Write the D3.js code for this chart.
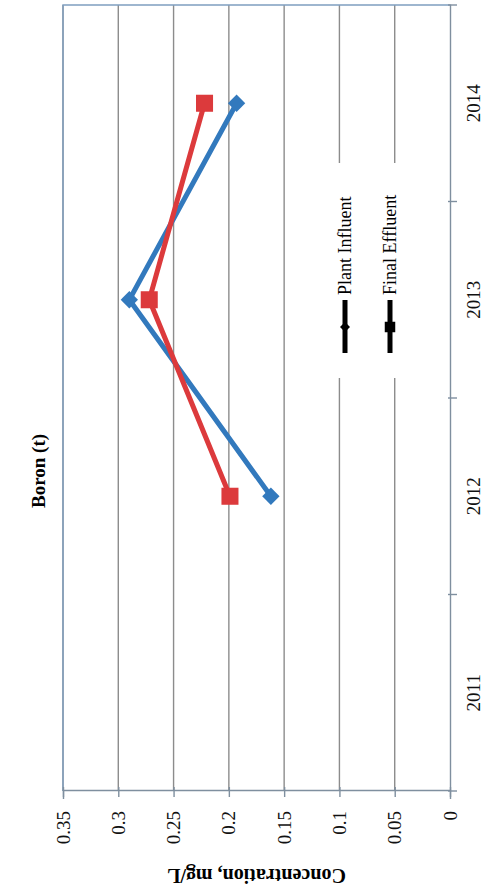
<!DOCTYPE html>
<html><head><meta charset="utf-8">
<script src="https://cdn.jsdelivr.net/npm/d3@7"></script>
<style>html,body{margin:0;padding:0;background:#fff;}svg{display:block;}</style>
</head><body>
<script>
const years = ["2011", "2012", "2013", "2014"];
const plantInfluent = [null, 0.162, 0.29, 0.193];
const finalEffluent = [null, 0.199, 0.272, 0.222];
const yTicks = [0, 0.05, 0.1, 0.15, 0.2, 0.25, 0.3, 0.35];
const seriesNames = ["Plant Influent", "Final Effluent"];

const W = 491, H = 893;
const svg = d3.select("body").append("svg").attr("width", W).attr("height", H);
// chart drawn in its own frame (893 wide x 491 tall) then rotated -90deg
const g = svg.append("g").attr("transform", `translate(0,${H}) rotate(-90)`);
const font = "'Liberation Serif', 'Times New Roman', serif";

const x = d3.scaleBand().domain(years).range([102, 888]);
const y = d3.scaleLinear().domain([0, 0.35]).range([450, 63]);

// gridlines
g.selectAll("line.grid").data(yTicks.filter(t => t > 0)).join("line")
  .attr("x1", 102).attr("x2", 888)
  .attr("y1", d => y(d)).attr("y2", d => y(d))
  .attr("stroke", "#8c8c8c").attr("stroke-width", 1.4);
// plot border (top & right in chart frame)
g.append("path").attr("d", `M102,${y(0.35)}H888V${y(0)}`)
  .attr("fill", "none").attr("stroke", "#7f9fc0").attr("stroke-width", 1.4);

// value axis
const yAxis = g.append("g").attr("transform", "translate(102,0)")
  .call(d3.axisLeft(y).tickValues(yTicks).tickSize(8).tickFormat(d => d === 0 ? "0" : String(d)));
yAxis.select(".domain").attr("stroke", "#7f8f9f").attr("stroke-width", 1.4);
yAxis.selectAll(".tick line").attr("stroke", "#7f8f9f").attr("stroke-width", 1.4).attr("x2", 4).attr("x1", -6);
yAxis.selectAll(".tick text").attr("x", -20).attr("font-family", font).attr("font-size", 19).attr("fill", "#111");

// category axis
const xAxis = g.append("g").attr("transform", `translate(0,${y(0)})`)
  .call(d3.axisBottom(x).tickSize(0).tickPadding(17));
xAxis.select(".domain").attr("stroke", "#7f8f9f").attr("stroke-width", 1.4);
xAxis.selectAll(".tick text").attr("font-family", font).attr("font-size", 19).attr("fill", "#111");
// boundary ticks
const bounds = years.map(d => x(d)).concat([x.range()[1]]);
g.selectAll("line.ctick").data(bounds).join("line")
  .attr("x1", d => d).attr("x2", d => d)
  .attr("y1", y(0) - 2).attr("y2", y(0) + 7)
  .attr("stroke", "#7f8f9f").attr("stroke-width", 1.4);

// title & axis title
g.append("text").attr("x", 422).attr("y", 45).attr("text-anchor", "middle")
  .attr("font-family", font).attr("font-weight", "bold").attr("font-size", 19).text("Boron (t)");
g.append("text").attr("transform", `translate(24,${(y(0)+y(0.35))/2}) rotate(-90)`)
  .attr("text-anchor", "middle").attr("font-family", font).attr("font-weight", "bold")
  .attr("font-size", 20).text("Concentration, mg/L");

// series
const cx = d => x(d) + x.bandwidth() / 2;
const series = [
  {name: seriesNames[0], vals: plantInfluent, color: "#3279bd", rot: 45, size: 150},
  {name: seriesNames[1], vals: finalEffluent, color: "#dc3a3c", rot: 0, size: 290}
];
const line = d3.line().defined(d => d.v != null).x(d => cx(d.year)).y(d => y(d.v));
series.forEach(s => {
  const pts = years.map((yr, i) => ({year: yr, v: s.vals[i]}));
  g.append("path").datum(pts).attr("d", line).attr("fill", "none")
    .attr("stroke", s.color).attr("stroke-width", 5).attr("stroke-linejoin", "miter");
  g.selectAll(null).data(pts.filter(p => p.v != null)).join("path")
    .attr("d", d3.symbol(d3.symbolSquare, s.size))
    .attr("transform", p => `translate(${cx(p.year)},${y(p.v)}) rotate(${s.rot})`)
    .attr("fill", s.color);
});

// legend
const lg = g.append("g");
lg.append("rect").attr("x", 515).attr("y", 322).attr("width", 215).attr("height", 88).attr("fill", "#fff");
series.forEach((s, i) => {
  const ly = 345 + i * 45;
  lg.append("line").attr("x1", 540).attr("x2", 593).attr("y1", ly).attr("y2", ly)
    .attr("stroke", "#000").attr("stroke-width", 5);
  lg.append("path").attr("d", d3.symbol(d3.symbolSquare, i === 0 ? 50 : 110)())
    .attr("transform", `translate(566,${ly}) rotate(${s.rot})`).attr("fill", "#000");
  lg.append("text").attr("x", 598).attr("y", ly).attr("dy", "0.35em")
    .attr("font-family", font).attr("font-size", 18).text(s.name);
});
</script>
</body></html>
